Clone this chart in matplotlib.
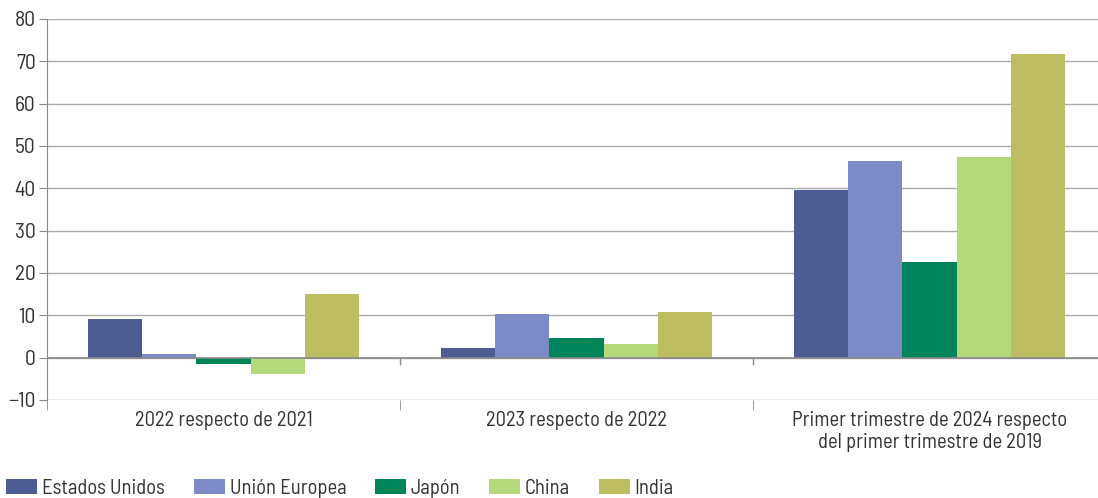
import matplotlib.pyplot as plt
import numpy as np

groups = ["2022 respecto de 2021", "2023 respecto de 2022",
          "Primer trimestre de 2024 respecto\ndel primer trimestre de 2019"]
series = ["Estados Unidos", "Unión Europea", "Japón", "China", "India"]
estados_unidos = [9.0, 2.2, 39.7]
union_europea = [0.8, 10.2, 46.4]
japon = [-1.6, 4.6, 22.6]
china = [-4.0, 3.1, 47.4]
india = [15.0, 10.7, 71.6]
colors = ["#4F5B93", "#7E8AC8", "#00845A", "#B5D87A", "#BDBD62"]

plt.rcParams["font.family"] = ["Barlow Semi Condensed", "DejaVu Sans"]

fig = plt.figure(figsize=(10.98, 4.98), dpi=100)
# the category axis runs slightly past the right edge of the image
ax = fig.add_axes([0.0428, 0.197, 0.9645, 0.765])

x = np.arange(len(groups))
w = 0.154
data = [estados_unidos, union_europea, japon, china, india]
for i, (vals, c, name) in enumerate(zip(data, colors, series)):
    ax.bar(x + (i - 2) * w, vals, w, color=c, label=name, zorder=3)

ax.set_ylim(-10, 80)
ax.set_yticks(range(-10, 81, 10))
ax.set_xlim(-0.5, 2.5)
ax.grid(axis="y", color="#aaaaaa", linewidth=1, zorder=0)
ax.axhline(0, color="#8a8a8a", linewidth=1.2, zorder=4)
# small category separators on the zero line
ax.vlines([0.5, 1.5], -1.7, 0, color="#8a8a8a", linewidth=1, zorder=4)

ax.set_xticks(x)
ax.set_xticklabels(groups, fontsize=14.8, color="#333333", linespacing=1.17)
ax.tick_params(axis="x", length=0, pad=8)
ax.set_xticks([-0.5, 0.5, 1.5], minor=True)
ax.tick_params(axis="x", which="minor", length=7, color="#8a8a8a")
ax.tick_params(axis="y", labelsize=15.5, labelcolor="#333333", length=6,
               color="#8a8a8a", pad=2)

for s in ["top", "right", "bottom"]:
    ax.spines[s].set_visible(False)
ax.spines["left"].set_color("#8a8a8a")

fig.legend(loc="lower left", bbox_to_anchor=(0.004, -0.004), ncol=5, frameon=False,
           fontsize=14.8, handlelength=1.5, handleheight=0.72, handletextpad=0.24,
           columnspacing=1.4, borderpad=0.1, borderaxespad=0, labelcolor="#333333")

fig.savefig("out.png", dpi=100)
